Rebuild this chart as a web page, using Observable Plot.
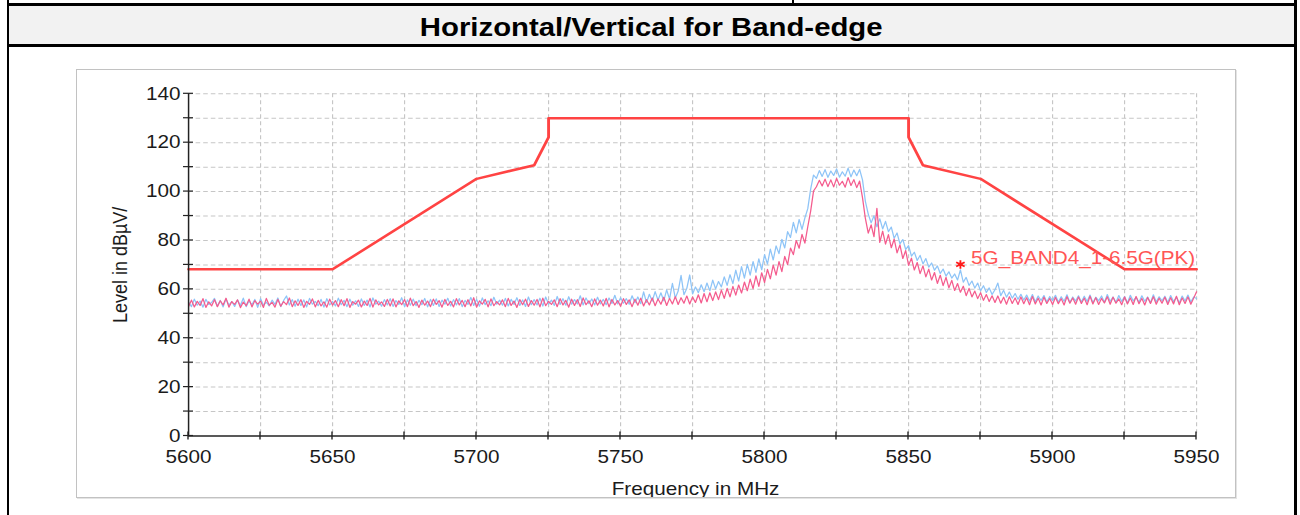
<!DOCTYPE html>
<html>
<head>
<meta charset="utf-8">
<script src="https://cdn.jsdelivr.net/npm/d3@7"></script>
<script src="https://cdn.jsdelivr.net/npm/@observablehq/plot@0.6"></script>
<style>
html, body { margin: 0; padding: 0; background: #fff; }
body { width: 1300px; height: 515px; position: relative; overflow: hidden; font-family: "Liberation Sans", Arial, sans-serif; }
.bl { position: absolute; background: #000; }
#header { position: absolute; left: 9px; top: 6px; width: 1285px; height: 38px; background: #f2f2f2; display: flex; align-items: center; justify-content: center; }
#header span { display: inline-block; position: relative; top: 2.5px; font-weight: bold; font-size: 25.5px; transform: scaleX(1.15); color: #000; white-space: nowrap; }
#box { position: absolute; left: 76px; top: 69px; width: 1158px; height: 427px; border: 1px solid #c2c2c2; box-shadow: 1px 1px 0 #e4e4e4; background: #fff; }
#box svg { position: absolute; left: 0; top: 0; }
</style>
</head>
<body>
<div class="bl" style="left:7px;top:0;width:2px;height:515px"></div>
<div class="bl" style="left:1294px;top:0;width:3px;height:515px"></div>
<div class="bl" style="left:792px;top:0;width:2px;height:5px"></div>
<div class="bl" style="left:7px;top:3px;width:1290px;height:3px"></div>
<div id="header"><span id="title"></span></div>
<div class="bl" style="left:7px;top:44px;width:1290px;height:3px"></div>
<div id="box"></div>
<script>
// ---------------- data ----------------
const chartTitle = "Horizontal/Vertical for Band-edge";
const xAxisLabel = "Frequency in MHz";
const yAxisLabel = "Level in dBµV/";

const xLabels = [5600, 5650, 5700, 5750, 5800, 5850, 5900, 5950];
const xTickValues = [5600, 5625, 5650, 5675, 5700, 5725, 5750, 5775, 5800, 5825, 5850, 5875, 5900, 5925, 5950];
const yLabels = [0, 20, 40, 60, 80, 100, 120, 140];
const yTickValues = [0, 10, 20, 30, 40, 50, 60, 70, 80, 90, 100, 110, 120, 130, 140];

// limit line (5G_BAND4 peak limit)
const limitFreq  = [5600, 5650, 5700, 5720, 5725, 5725, 5850, 5850, 5855, 5875, 5925, 5950];
const limitLevel = [68.2, 68.2, 105.2, 110.8, 122.2, 130, 130, 122.2, 110.8, 105.2, 68.2, 68.2];

// marker
const markerFreq = 5868;
const markerLevel = 70.2;
const markerLabel = "5G_BAND4_1-6.5G(PK)";

// spectrum traces, one value per MHz starting at 5600 MHz
const traceStartMHz = 5600;
const traceStepMHz = 1;
const traceHorizontal = [
53.0,55.6,52.8,55.1,53.4,56.2,52.6,54.9,53.2,55.8,
52.9,55.3,53.6,56.4,52.7,55.0,53.8,55.7,52.5,54.8,
53.3,56.0,52.8,55.4,53.9,55.2,52.6,56.3,53.5,54.7,
52.7,55.9,53.1,55.0,53.7,56.5,52.9,55.3,53.4,55.8,
52.6,55.1,53.8,56.1,52.8,55.5,53.2,54.9,52.7,56.0,
53.5,55.4,52.9,55.8,53.3,56.2,52.6,55.0,53.9,55.6,
52.8,55.2,53.4,56.3,52.7,55.7,53.6,54.9,53.0,55.9,
53.2,56.1,52.8,55.3,53.7,55.8,52.9,56.4,53.3,55.0,
52.6,55.6,53.5,55.2,52.9,56.0,53.8,55.4,52.7,55.9,
53.4,55.1,52.8,56.2,53.6,55.5,52.9,55.8,53.2,56.6,
52.7,55.3,53.9,55.9,52.8,56.1,53.3,55.0,53.6,55.7,
52.9,56.3,53.4,55.2,52.6,55.8,53.7,56.0,53.0,55.4,
53.5,55.9,52.8,56.4,53.3,55.1,53.8,55.7,52.9,56.2,
53.6,55.5,52.7,56.0,53.4,55.8,53.0,56.5,53.7,55.3,
52.9,56.1,53.5,55.6,53.2,56.3,52.8,55.9,53.6,55.4,
53.1,56.2,53.8,55.7,52.9,56.0,53.5,56.4,53.2,55.8,
53.6,56.5,53.3,56.1,53.9,56.8,53.4,56.3,54.0,57.0,
53.8,56.6,54.3,57.3,54.0,56.9,54.6,57.8,54.4,58.3,
54.9,58.6,55.4,59.0,55.8,59.7,56.3,60.4,56.9,61.2,
57.6,61.8,58.5,63.0,59.4,64.2,60.3,65.5,61.2,66.8,
62.8,68.2,64.3,69.9,65.8,71.4,67.2,73.5,70.1,76.9,
74.2,80.0,76.8,82.5,78.9,85.6,92.0,100.2,102.0,104.6,
102.3,105.1,102.0,104.8,101.9,105.4,102.6,104.2,101.8,105.7,
102.5,104.9,101.6,104.3,97.5,89.0,83.0,86.4,81.5,93.2,
79.2,83.8,78.5,82.4,77.0,80.6,74.9,78.2,72.6,75.9,
69.8,72.8,67.9,71.0,66.4,69.6,65.1,68.3,63.8,66.9,
62.4,65.8,61.5,64.9,60.6,63.7,59.5,62.4,58.8,61.3,
57.4,60.4,56.9,59.3,56.2,58.6,55.5,57.9,55.0,57.4,
54.6,57.3,54.3,56.8,53.9,57.0,54.2,56.5,53.8,56.9,
54.1,56.6,53.7,57.1,54.0,56.4,53.6,56.8,54.2,56.3,
53.8,56.7,54.1,56.2,53.6,57.0,54.3,56.5,53.9,56.9,
54.2,56.4,53.7,57.2,54.0,56.6,53.8,56.3,54.4,57.0,
53.9,56.8,54.3,56.1,53.7,56.9,54.0,56.5,53.8,57.1,
54.1,56.3,53.6,56.7,54.2,57.0,53.9,56.4,54.3,56.8,
53.8,56.6,54.0,57.2,53.7,56.5,54.2,56.9,53.9,56.4,
59.0];
const traceVertical = [
54.8,52.9,56.0,53.5,55.2,52.7,55.9,53.8,54.6,56.3,
53.1,55.5,52.8,56.1,53.6,55.0,53.0,55.7,53.4,56.4,
52.9,55.3,53.7,55.9,52.6,56.2,53.5,54.8,53.2,55.6,
53.8,56.5,52.9,55.4,57.3,53.6,55.8,53.1,56.0,53.4,
55.7,52.8,56.3,53.9,55.1,53.3,55.9,52.7,56.2,53.6,
55.0,53.2,56.4,53.7,55.5,52.9,56.0,53.5,55.3,53.0,
56.1,53.4,55.6,52.8,56.5,53.9,55.2,53.1,55.8,53.6,
56.2,53.0,55.4,53.8,56.6,52.9,55.7,53.5,56.0,53.3,
55.5,53.7,56.3,52.8,55.9,53.4,56.1,53.0,55.6,53.9,
56.4,53.2,55.8,53.6,56.2,52.9,55.5,53.8,56.7,53.4,
55.9,53.1,56.5,53.7,55.3,53.3,56.8,53.9,55.6,53.5,
56.3,53.2,55.9,53.8,56.6,53.4,55.7,53.0,56.9,53.7,
55.8,53.6,56.4,53.1,56.9,53.9,55.6,53.4,57.1,53.8,
56.2,53.5,57.0,53.9,55.8,54.0,57.4,53.6,56.5,54.1,
56.1,53.6,56.8,54.0,55.9,53.7,56.5,54.2,57.6,54.0,
56.6,54.3,56.2,53.9,57.4,54.5,56.9,54.1,59.0,54.6,
58.0,55.2,59.1,55.6,58.6,55.3,59.8,56.0,62.5,56.4,
59.3,65.7,57.8,60.4,65.9,58.1,61.0,58.6,61.9,59.0,
62.6,59.4,63.8,60.2,63.2,61.0,65.1,61.6,66.0,62.3,
67.9,63.4,69.3,64.6,70.2,65.8,71.4,66.9,72.5,68.0,
74.2,70.3,76.5,72.0,77.8,74.6,80.5,76.9,83.6,81.2,
87.4,83.1,88.6,84.5,89.2,93.0,101.0,106.8,105.4,108.6,
106.2,109.0,105.8,108.4,106.6,109.3,105.9,108.1,106.3,109.6,
106.0,108.8,106.5,109.1,104.8,96.0,90.8,87.2,90.1,85.6,
88.9,84.7,87.8,83.6,85.5,80.9,83.1,78.6,80.4,76.3,
77.9,73.6,75.2,71.8,73.9,70.4,72.6,69.1,70.8,67.8,
69.6,66.5,68.3,65.4,67.2,64.6,66.3,63.8,68.0,62.9,
64.9,61.6,63.4,60.5,62.6,59.4,61.5,58.7,60.6,57.9,
59.8,62.6,57.4,59.6,56.8,58.9,56.4,58.3,55.9,58.0,
55.6,57.7,55.2,57.9,54.9,57.3,55.4,57.5,54.8,57.1,
55.3,57.6,54.7,57.0,55.1,57.8,54.6,56.9,55.2,57.4,
54.8,57.2,55.0,57.7,54.5,56.8,55.3,57.3,54.7,57.9,
55.1,56.9,54.6,57.5,55.0,57.1,54.4,57.6,55.2,56.8,
54.7,57.4,55.1,56.9,54.5,57.8,54.9,57.0,55.3,57.2,
54.6,57.5,55.0,56.8,54.4,57.3,55.2,57.7,54.8,56.9,
56.2];

// ---------------- build ----------------
document.getElementById("title").textContent = chartTitle;

const hData = traceHorizontal.map((v, i) => ({f: traceStartMHz + i * traceStepMHz, v}));
const vData = traceVertical.map((v, i) => ({f: traceStartMHz + i * traceStepMHz, v}));
const limitData = limitFreq.map((f, i) => ({f, v: limitLevel[i]}));

const BOX_W = 1158, BOX_H = 427, STRETCH = 1.15;
const innerW = BOX_W / STRETCH;
const FONT = "'Liberation Sans', Arial, Helvetica, sans-serif";
const gridColor = "#c6c6c6";

const chart = Plot.plot({
  width: innerW,
  height: BOX_H,
  marginLeft: 111 / STRETCH,
  marginRight: 39 / STRETCH,
  marginTop: 23.3,
  marginBottom: 61.5,
  style: {fontFamily: FONT, fontSize: "18px", color: "#1b1b1b", background: "transparent", overflow: "hidden"},
  x: {domain: [5600, 5950], ticks: xLabels, tickSize: 0, tickPadding: 14, tickFormat: d => String(d), label: null},
  y: {domain: [0, 140], ticks: yLabels, tickSize: 0, tickPadding: 7, tickFormat: d => String(d), label: null},
  marks: [
    Plot.ruleY(yTickValues.filter(d => d > 0), {stroke: gridColor, strokeDasharray: "4,2.6"}),
    Plot.ruleX(xTickValues.filter(d => d > 5600), {stroke: gridColor, strokeDasharray: "4,3"}),
    Plot.line(vData, {x: "f", y: "v", stroke: "#8ec4f7", strokeWidth: 1.1}),
    Plot.line(hData, {x: "f", y: "v", stroke: "#f45c8e", strokeWidth: 1.1}),
    Plot.line(limitData, {x: "f", y: "v", stroke: "#ff4343", strokeWidth: 2.5}),
    Plot.ruleX([5600], {stroke: "#222", strokeWidth: 1.3}),
    Plot.ruleY([0], {stroke: "#222", strokeWidth: 1.3}),
    Plot.dot([{f: markerFreq, v: markerLevel}], {x: "f", y: "v", symbol: "asterisk", r: 4, stroke: "#ff1a1a", strokeWidth: 1.6}),
    Plot.dot([{f: markerFreq, v: markerLevel}], {x: "f", y: "v", r: 1.8, fill: "#ff1a1a"}),
    Plot.text([markerLabel], {x: () => markerFreq, y: () => markerLevel, text: d => d, dx: 10.7 / STRETCH, textAnchor: "start", lineAnchor: "bottom", fill: "#ff5555", fontSize: 18}),
    Plot.text([xAxisLabel], {frameAnchor: "bottom", text: d => d, dy: 46, dx: 2.6, lineAnchor: "top", textAnchor: "middle", fontSize: 18, fill: "#1b1b1b"}),
    Plot.text([yAxisLabel], {frameAnchor: "left", text: d => d, rotate: -90, dx: -(111 - 43) / STRETCH, lineAnchor: "middle", textAnchor: "middle", fontSize: 18, fill: "#1b1b1b"})
  ]
});

// crossing tick marks on both axes, placed through Plot's own scales
const sx = chart.scale("x"), sy = chart.scale("y");
const gTicks = d3.select(chart).append("g").attr("stroke", "#222").attr("stroke-width", 1.2);
const x0 = sx.apply(5600), y0 = sy.apply(0);
xTickValues.forEach(v => {
  const px = sx.apply(v);
  gTicks.append("line").attr("x1", px).attr("x2", px).attr("y1", y0 - 4).attr("y2", y0 + 4);
});
yTickValues.forEach(v => {
  const py = sy.apply(v);
  gTicks.append("line").attr("x1", x0 - 5 / STRETCH).attr("x2", x0 + 5 / STRETCH).attr("y1", py).attr("y2", py);
});

chart.setAttribute("viewBox", `0 0 ${innerW} ${BOX_H}`);
chart.setAttribute("preserveAspectRatio", "none");
chart.setAttribute("width", BOX_W);
chart.setAttribute("height", BOX_H);
chart.style.width = BOX_W + "px";
chart.style.height = BOX_H + "px";
chart.style.maxWidth = "none";
document.getElementById("box").appendChild(chart);
</script>
</body>
</html>
